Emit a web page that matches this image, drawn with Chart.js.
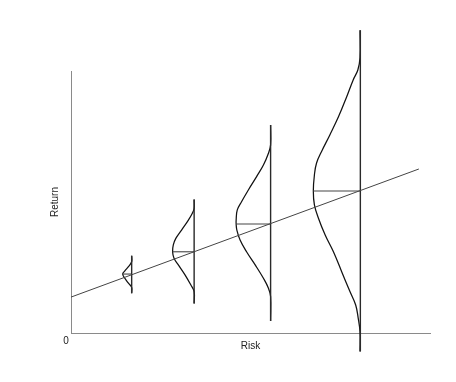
<!DOCTYPE html>
<html>
<head>
<meta charset="utf-8">
<script src="https://cdn.jsdelivr.net/npm/chart.js@4.4.1/dist/chart.umd.min.js"></script>
<style>
  html, body { margin: 0; padding: 0; background: #ffffff; }
  canvas { display: block; }
</style>
</head>
<body>
<canvas id="c" width="456" height="382"></canvas>
<script>
// ---- Data (risk on x, return on y, axis units 0..10) ----
const xTicks = [0];
const xTickLabels = ['0'];
const axisTitles = { x: 'Risk', y: 'Return' };

// Trend (risk/return line)
const trendRisk = [0, 9.69];
const trendReturn = [1.37, 6.26];

// Four assets: risk level, mean return, range of outcomes, peak of distribution
const riskLevels = [1.69, 3.43, 5.56, 8.06];
const meanReturns = [2.25, 3.10, 4.16, 5.42];
const rangeTop = [2.95, 5.10, 7.94, 11.56];
const rangeBottom = [1.52, 1.13, 0.46, -0.71];
const peakRisk = [1.44, 2.83, 4.60, 6.75];

// Distribution outlines
const curve1Risk = [1.69, 1.69, 1.60, 1.50, 1.44, 1.50, 1.60, 1.69, 1.69];
const curve1Return = [2.95, 2.72, 2.53, 2.37, 2.25, 2.09, 1.90, 1.74, 1.52];

const curve2Risk = [3.43, 3.43, 3.38, 3.27, 3.08, 2.92, 2.85, 2.83, 2.87, 2.99, 3.18, 3.34, 3.43, 3.43];
const curve2Return = [5.10, 4.76, 4.57, 4.31, 3.93, 3.61, 3.36, 3.10, 2.85, 2.60, 2.21, 1.83, 1.58, 1.13];

const curve3Risk = [5.56, 5.56, 5.50, 5.36, 5.17, 4.94, 4.75, 4.63, 4.60, 4.60, 4.62, 4.71, 4.89, 5.13, 5.36, 5.50, 5.56, 5.56];
const curve3Return = [7.94, 7.18, 6.86, 6.41, 5.97, 5.46, 5.01, 4.69, 4.31, 4.16, 3.93, 3.55, 3.10, 2.60, 2.09, 1.71, 1.39, 0.46];

const curve4Risk = [8.05, 8.05, 7.99, 7.86, 7.68, 7.45, 7.21, 6.98, 6.84, 6.78, 6.75, 6.78, 6.89, 7.08, 7.31, 7.54, 7.77, 7.93, 8.00, 8.05, 8.05];
const curve4Return = [11.56, 10.50, 10.04, 9.66, 9.02, 8.25, 7.56, 6.93, 6.49, 6.03, 5.42, 4.89, 4.39, 3.74, 3.10, 2.34, 1.58, 1.07, 0.57, 0.05, -0.71];

// ---- Build datasets ----
const zip = (xs, ys) => xs.map((x, i) => ({ x: x, y: ys[i] }));
const curves = [
  [curve1Risk, curve1Return],
  [curve2Risk, curve2Return],
  [curve3Risk, curve3Return],
  [curve4Risk, curve4Return]
];

const datasets = [];
datasets.push({
  data: zip(trendRisk, trendReturn),
  borderColor: '#444444', borderWidth: 1, tension: 0
});
riskLevels.forEach((r, i) => {
  datasets.push({
    data: [{ x: r, y: rangeTop[i] }, { x: r, y: rangeBottom[i] }],
    borderColor: '#2a2a2a', borderWidth: 1.4, tension: 0
  });
  datasets.push({
    data: [{ x: peakRisk[i], y: meanReturns[i] }, { x: r, y: meanReturns[i] }],
    borderColor: '#444444', borderWidth: 1.1, tension: 0
  });
  datasets.push({
    data: zip(curves[i][0], curves[i][1]),
    borderColor: '#111111', borderWidth: 1.25, tension: 0.4
  });
});
datasets.forEach(d => {
  d.showLine = true;
  d.pointRadius = 0;
  d.pointHoverRadius = 0;
  d.clip = false;
  d.fill = false;
});

const font = { family: 'Liberation Sans, Arial, Helvetica, sans-serif', size: 10 };

new Chart(document.getElementById('c'), {
  type: 'scatter',
  data: { datasets: datasets },
  options: {
    responsive: false,
    animation: false,
    devicePixelRatio: 1,
    layout: { padding: { top: 71, right: 26, left: 0, bottom: 0 } },
    plugins: { legend: { display: false }, tooltip: { enabled: false } },
    events: [],
    scales: {
      x: {
        type: 'linear', min: 0, max: 10,
        grid: { display: false, drawTicks: false },
        border: { display: true, color: '#8a8a8a', width: 1 },
        afterBuildTicks: s => { s.ticks = xTicks.map(v => ({ value: v })); },
        ticks: {
          padding: 2, labelOffset: -5, color: '#222222', font: font,
          autoSkip: false, maxRotation: 0,
          callback: (v) => { const k = xTicks.indexOf(v); return k >= 0 ? xTickLabels[k] : ''; }
        },
        title: { display: true, text: axisTitles.x, color: '#222222', font: font, padding: { top: 0, bottom: 30 } },
        afterFit: s => { s.height = 49; }
      },
      y: {
        type: 'linear', min: 0, max: 10,
        grid: { display: false, drawTicks: false },
        border: { display: true, color: '#8a8a8a', width: 1 },
        ticks: { display: false },
        title: { display: true, text: axisTitles.y, color: '#222222', font: font, padding: { top: 49, bottom: 0 } },
        afterFit: s => { s.width = 71; }
      }
    }
  }
});
</script>
</body>
</html>
